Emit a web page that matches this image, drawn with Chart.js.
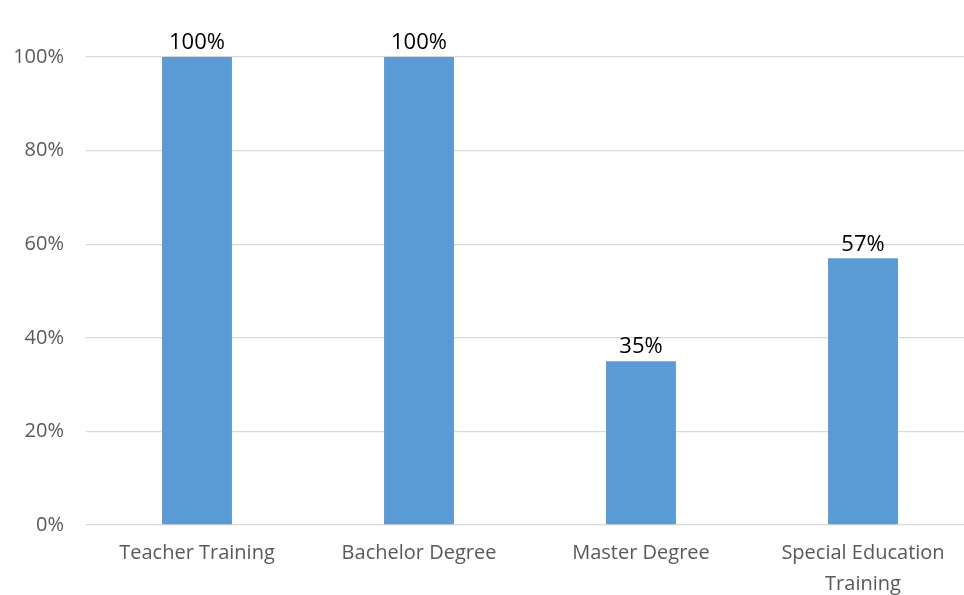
<!DOCTYPE html>
<html>
<head>
<meta charset="utf-8">
<script src="https://cdn.jsdelivr.net/npm/chart.js@4"></script>
<style>
  html, body { margin: 0; padding: 0; background: #fff; overflow: hidden; }
  #wrap { width: 974px; height: 595px; }
</style>
</head>
<body>
<div id="wrap"><canvas id="chart-bar" width="974" height="595"></canvas></div>
<script>
// Data
const categories = ['Teacher Training', 'Bachelor Degree', 'Master Degree', ['Special Education', 'Training']];
const percentValues = [100, 100, 35, 57];
const yTicks = [0, 20, 40, 60, 80, 100];

// data labels above bars
const barLabels = {
  id: 'barLabels',
  afterDatasetsDraw(chart) {
    const ctx = chart.ctx;
    const meta = chart.getDatasetMeta(0);
    ctx.save();
    ctx.font = '22px "Open Sans"';
    ctx.fillStyle = '#000000';
    ctx.textAlign = 'center';
    ctx.textBaseline = 'bottom';
    meta.data.forEach((bar, i) => {
      ctx.fillText(percentValues[i] + '%', bar.x, bar.y - 3);
    });
    ctx.restore();
  }
};

const barChart = document.getElementById('chart-bar').getContext('2d');
const myBarChart = new Chart(barChart, {
  type: 'bar',
  data: {
    labels: categories,
    datasets: [{
      data: percentValues,
      backgroundColor: '#5B9BD5',
      borderWidth: 0,
      barPercentage: 1,
      categoryPercentage: 0.315
    }]
  },
  options: {
    responsive: false,
    animation: false,
    devicePixelRatio: 1,
    layout: { padding: { top: 57, left: 0, right: 0, bottom: 0 } },
    plugins: {
      legend: { display: false },
      tooltip: { enabled: false }
    },
    scales: {
      x: {
        grid: { display: false, drawTicks: false },
        border: { display: false },
        ticks: {
          color: '#595959',
          font: { family: 'Open Sans', size: 20, lineHeight: 1.55 },
          padding: 13,
          maxRotation: 0,
          autoSkip: false
        },
        afterFit(scale) { scale.height = 70; }
      },
      y: {
        min: 0,
        max: 100,
        afterBuildTicks(scale) { scale.ticks = yTicks.map(v => ({ value: v })); },
        grid: { color: '#D9D9D9', lineWidth: 1.3, drawTicks: false },
        border: { display: false },
        ticks: {
          color: '#595959',
          font: { family: 'Open Sans', size: 20 },
          padding: 22,
          callback: v => v + '%'
        },
        afterFit(scale) { scale.width = 86; }
      }
    }
  },
  plugins: [barLabels]
});
</script>
</body>
</html>
